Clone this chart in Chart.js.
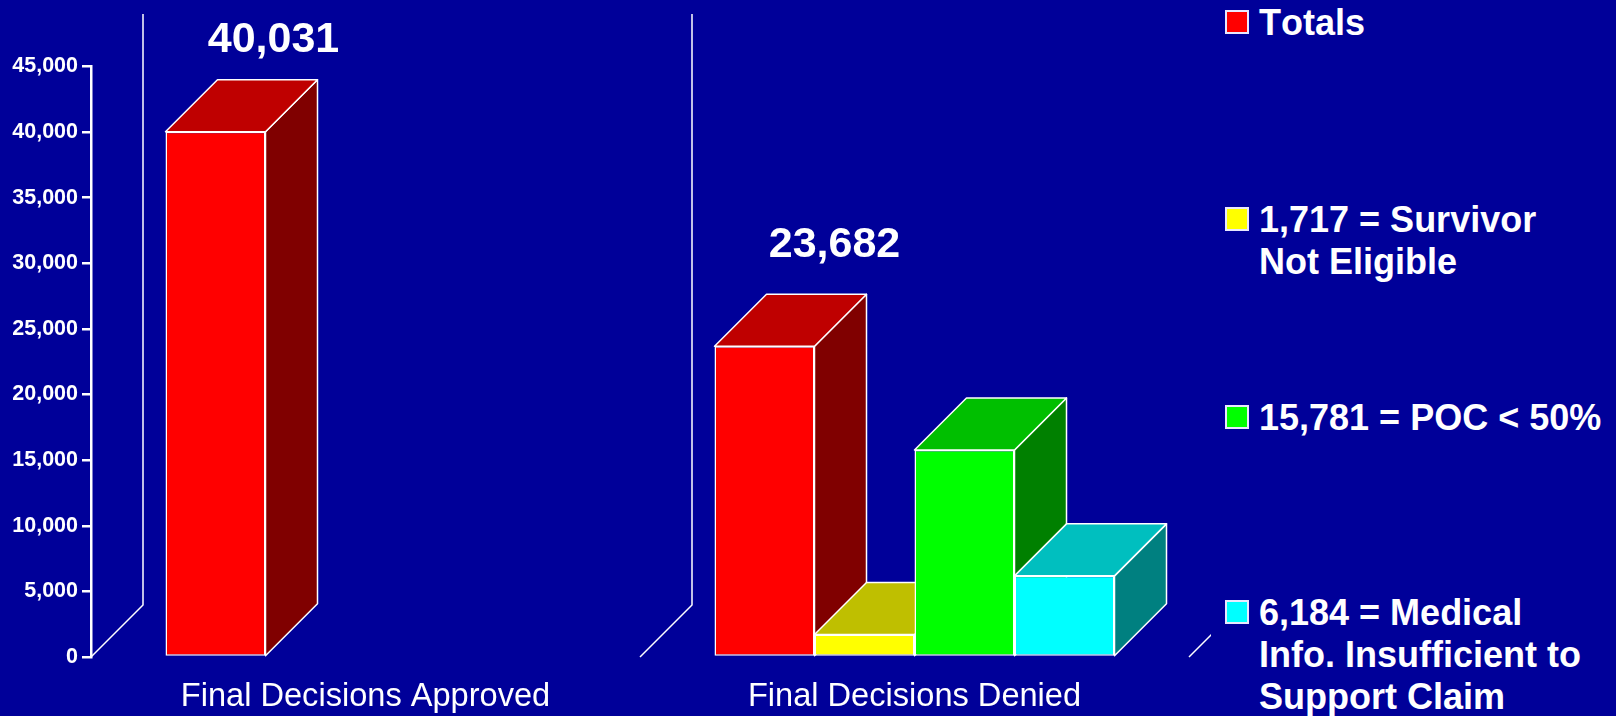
<!DOCTYPE html>
<html>
<head>
<meta charset="utf-8">
<title>Final Decisions</title>
<script src="https://cdn.jsdelivr.net/npm/chart.js@4/dist/chart.umd.js"></script>
<style>
    html, body { margin: 0; padding: 0; background: #000099; overflow: hidden; }
    #wrap { position: relative; width: 1616px; height: 716px; }
    #legend {
        position: absolute; left: 1211px; top: 0; width: 405px; height: 716px;
        background: #000099; color: #fff;
        font: bold 36px/42px "Liberation Sans", Arial, sans-serif;
        font-kerning: none;
    }
    .item { position: absolute; left: 48px; white-space: nowrap; }
    .item:nth-child(1) { top: 2px; }
    .item:nth-child(2) { top: 199px; }
    .item:nth-child(3) { top: 397px; }
    .item:nth-child(4) { top: 592px; }
    .swatch {
        position: absolute; left: -34px; top: 8px; width: 20px; height: 20px;
        border: 2px solid #e8e8ff;
    }
</style>
</head>
<body>
<div id="wrap">
    <canvas id="chart" width="1616" height="716"></canvas>
    <div id="legend"></div>
</div>
<script>
const categories = ["Final Decisions Approved", "Final Decisions Denied"];
const totals = [40031, 23682];
const survivorNotEligible = [null, 1717];
const pocUnder50 = [null, 15781];
const medicalInsufficient = [null, 6184];
const yTickLabels = ["0", "5,000", "10,000", "15,000", "20,000", "25,000", "30,000", "35,000", "40,000", "45,000"];
const totalLabels = ["40,031", "23,682"];
const legendLabels = [
    ["Totals"],
    ["1,717 = Survivor", "Not Eligible"],
    ["15,781 = POC < 50%"],
    ["6,184 = Medical", "Info. Insufficient to", "Support Claim"]
];
const frontColors = ["#ff0000", "#ffff00", "#00ff00", "#00ffff"];
const topColors = ["#bf0000", "#bfbf00", "#00bf00", "#00bfbf"];
const sideColors = ["#800000", "#808000", "#008000", "#008080"];

const DEPTH = 52;
const WALL_TOP = 14;
const FONT = '"Liberation Sans", Arial, sans-serif';
// where the big total goes, measured from the top left corner of the bar
const totalLabelOffsets = [[108, -80], [120, -89]];

function face(ctx, points, fill) {
    ctx.beginPath();
    points.forEach((p, i) => i ? ctx.lineTo(p[0], p[1]) : ctx.moveTo(p[0], p[1]));
    ctx.closePath();
    ctx.fillStyle = fill;
    ctx.fill();
    ctx.stroke();
}

/* ---------------- 3D LOOK ---------------- */
// walls and the side/top faces go under the fronts, which the library draws after this
const depthPlugin = {
    id: "depth",
    beforeDatasetsDraw(chart) {
        const ctx = chart.ctx;
        const x = chart.scales.x;
        const y0 = chart.scales.y.getPixelForValue(0);
        const step = x.width / categories.length;
        ctx.save();
        ctx.strokeStyle = "#ffffff";
        ctx.lineWidth = 1.5;
        ctx.lineJoin = "round";
        for (let i = 0; i <= categories.length; i++) {
            const left = x.left + i * step;
            ctx.beginPath();
            ctx.moveTo(left, y0);
            ctx.lineTo(left + DEPTH, y0 - DEPTH);
            ctx.lineTo(left + DEPTH, WALL_TOP);
            ctx.stroke();
        }
        chart.data.datasets.forEach((dataset, i) => {
            chart.getDatasetMeta(i).data.forEach((bar, n) => {
                if (dataset.data[n] === null) return;
                const left = bar.x - bar.width / 2;
                const right = bar.x + bar.width / 2;
                const top = bar.y;
                const base = bar.base;
                face(ctx, [[right, top], [right + DEPTH, top - DEPTH], [right + DEPTH, base - DEPTH], [right, base]], sideColors[i]);
                face(ctx, [[left, top], [left + DEPTH, top - DEPTH], [right + DEPTH, top - DEPTH], [right, top]], topColors[i]);
            });
        });
        ctx.restore();
    },
    afterDatasetsDraw(chart) {
        const ctx = chart.ctx;
        const meta = chart.getDatasetMeta(0);
        ctx.save();
        ctx.fillStyle = "#ffffff";
        ctx.font = "bold 43px " + FONT;
        ctx.textAlign = "center";
        ctx.textBaseline = "alphabetic";
        meta.data.forEach((bar, n) => {
            const left = bar.x - bar.width / 2;
            ctx.fillText(totalLabels[n], left + totalLabelOffsets[n][0], bar.y + totalLabelOffsets[n][1]);
        });
        ctx.restore();
    }
};

/* ---------------- CHART ---------------- */
const seriesValues = [totals, survivorNotEligible, pocUnder50, medicalInsufficient];

new Chart(document.getElementById("chart"), {
    type: "bar",
    data: {
        labels: categories,
        datasets: seriesValues.map((values, i) => ({
            label: legendLabels[i].join(" "),
            data: values,
            backgroundColor: frontColors[i],
            borderColor: "#ffffff",
            borderWidth: 1.5,
            borderSkipped: false
        }))
    },
    options: {
        responsive: false,
        animation: false,
        categoryPercentage: 0.7286,
        barPercentage: 1,
        layout: { padding: { top: 66.5, right: 427, left: 0, bottom: 0 } },
        plugins: { legend: { display: false }, tooltip: { enabled: false } },
        scales: {
            x: {
                afterFit(scale) { scale.height = 59; },
                grid: { display: false },
                border: { display: false },
                ticks: {
                    color: "#ffffff",
                    padding: 12,
                    maxRotation: 0,
                    font: { family: FONT, size: 32.6 }
                }
            },
            y: {
                min: 0,
                max: 45000,
                afterFit(scale) { scale.width = 91; },
                border: { color: "#ffffff", width: 2.5 },
                grid: { drawOnChartArea: false, color: "#ffffff", lineWidth: 2.5, tickLength: 9 },
                ticks: {
                    stepSize: 5000,
                    color: "#ffffff",
                    padding: 4,
                    font: { family: FONT, size: 21.5, weight: "bold" },
                    callback: (value, index) => yTickLabels[index]
                }
            }
        }
    },
    plugins: [depthPlugin]
});

/* ---------------- LEGEND ---------------- */
const legend = document.getElementById("legend");
legendLabels.forEach((lines, i) => {
    const item = document.createElement("div");
    item.className = "item";
    const swatch = document.createElement("span");
    swatch.className = "swatch";
    swatch.style.background = frontColors[i];
    item.appendChild(swatch);
    lines.forEach((line, n) => {
        if (n) item.appendChild(document.createElement("br"));
        item.appendChild(document.createTextNode(line));
    });
    legend.appendChild(item);
});
</script>
</body>
</html>
